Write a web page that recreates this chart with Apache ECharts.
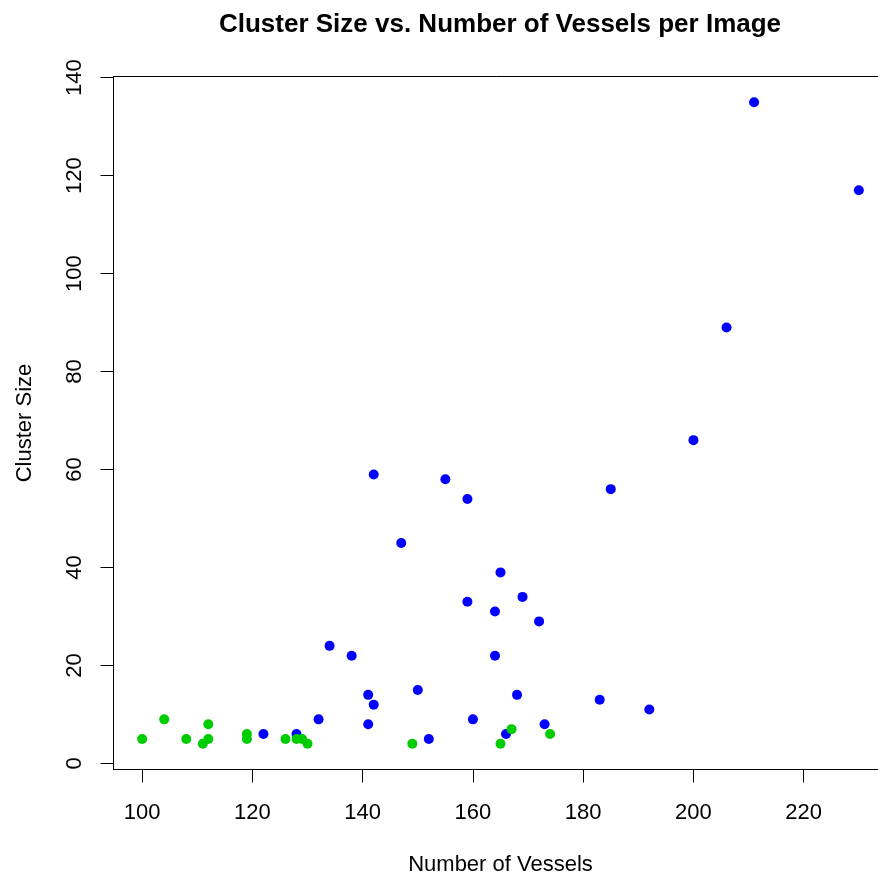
<!DOCTYPE html>
<html>
<head>
<meta charset="utf-8">
<title>Cluster Size vs. Number of Vessels per Image</title>
<script src="https://cdn.jsdelivr.net/npm/echarts@6/dist/echarts.min.js"></script>
<style>
  html, body { margin: 0; padding: 0; background: #fff; }
  #chart { width: 878px; height: 873px; }
</style>
</head>
<body>
<div id="chart"></div>
<script>
// Number of vessels (x) and cluster size (y) for each image, by group
const blueVessels = [211, 230, 122, 128, 132, 134, 138, 141, 142, 141, 164, 150, 168, 183, 192, 160,
                     173, 166, 152, 142, 155, 159, 147, 165, 169, 159, 164, 172, 185, 200, 206];
const blueSizes   = [135, 117, 6, 6, 9, 24, 22, 14, 12, 8, 22, 15, 14, 13, 11, 9,
                     8, 6, 5, 59, 58, 54, 45, 39, 34, 33, 31, 29, 56, 66, 89];
const greenVessels = [100, 104, 108, 111, 112, 112, 119, 119, 126, 128, 129, 130, 167, 174, 149, 165];
const greenSizes   = [5, 9, 5, 4, 8, 5, 6, 5, 5, 5, 5, 4, 7, 6, 4, 4];

const xTicks = [100, 120, 140, 160, 180, 200, 220];
const yTicks = [0, 20, 40, 60, 80, 100, 120, 140];

const chartTitle = 'Cluster Size vs. Number of Vessels per Image';
const xTitle = 'Number of Vessels';
const yTitle = 'Cluster Size';

const FONT = "'Liberation Sans', Arial, Helvetica, sans-serif";

function pairs(xs, ys) { return xs.map((x, i) => [x, ys[i]]); }

// Axis extents padded by 4% of the data range on each side
function padded(values) {
  const lo = Math.min(...values), hi = Math.max(...values);
  const pad = (hi - lo) * 0.04;
  return [lo - pad, hi + pad];
}
const allX = blueVessels.concat(greenVessels);
const allY = blueSizes.concat(greenSizes);
const [xMin, xMax] = padded(allX);
const [yMin, yMax] = padded(allY);

const chart = echarts.init(document.getElementById('chart'), null, { renderer: 'canvas' });

chart.setOption({
  animation: false,
  backgroundColor: '#ffffff',
  graphic: [{
    type: 'text',
    x: 500,
    y: 25,
    style: {
      text: chartTitle,
      font: "bold 26px " + FONT,
      fill: '#000',
      textAlign: 'center',
      textVerticalAlign: 'middle'
    }
  }],
  grid: {
    left: 113.5,
    top: 76.5,
    right: -9.5,
    bottom: 103.5,
    outerBoundsMode: 'none',
    containLabel: false,
    show: true,
    borderColor: '#000',
    borderWidth: 1,
    backgroundColor: 'transparent'
  },
  xAxis: {
    type: 'value',
    min: xMin,
    max: xMax,
    name: xTitle,
    nameLocation: 'middle',
    nameGap: 84,
    nameTextStyle: { fontFamily: FONT, fontSize: 22, color: '#000' },
    axisLine: { show: true, onZero: false, lineStyle: { color: '#000', width: 1 } },
    axisTick: { show: true, inside: false, length: 13, customValues: xTicks,
                lineStyle: { color: '#000', width: 1 } },
    axisLabel: { customValues: xTicks, margin: 32, fontFamily: FONT, fontSize: 22, color: '#000' },
    splitLine: { show: false }
  },
  yAxis: {
    type: 'value',
    min: yMin,
    max: yMax,
    name: yTitle,
    nameLocation: 'middle',
    nameGap: 78,
    nameTextStyle: { fontFamily: FONT, fontSize: 22, color: '#000' },
    axisLine: { show: true, onZero: false, lineStyle: { color: '#000', width: 1 } },
    axisTick: { show: true, inside: false, length: 13, customValues: yTicks,
                lineStyle: { color: '#000', width: 1 } },
    axisLabel: { customValues: yTicks, rotate: 90, margin: 28, fontFamily: FONT, fontSize: 22, color: '#000' },
    splitLine: { show: false }
  },
  series: [
    {
      type: 'scatter',
      data: pairs(blueVessels, blueSizes),
      symbol: 'circle',
      symbolSize: 10,
      itemStyle: { color: '#0000FF', opacity: 1 },
      emphasis: { disabled: true }
    },
    {
      type: 'scatter',
      data: pairs(greenVessels, greenSizes),
      symbol: 'circle',
      symbolSize: 10,
      itemStyle: { color: '#00CD00', opacity: 1 },
      emphasis: { disabled: true }
    }
  ]
});
</script>
</body>
</html>
